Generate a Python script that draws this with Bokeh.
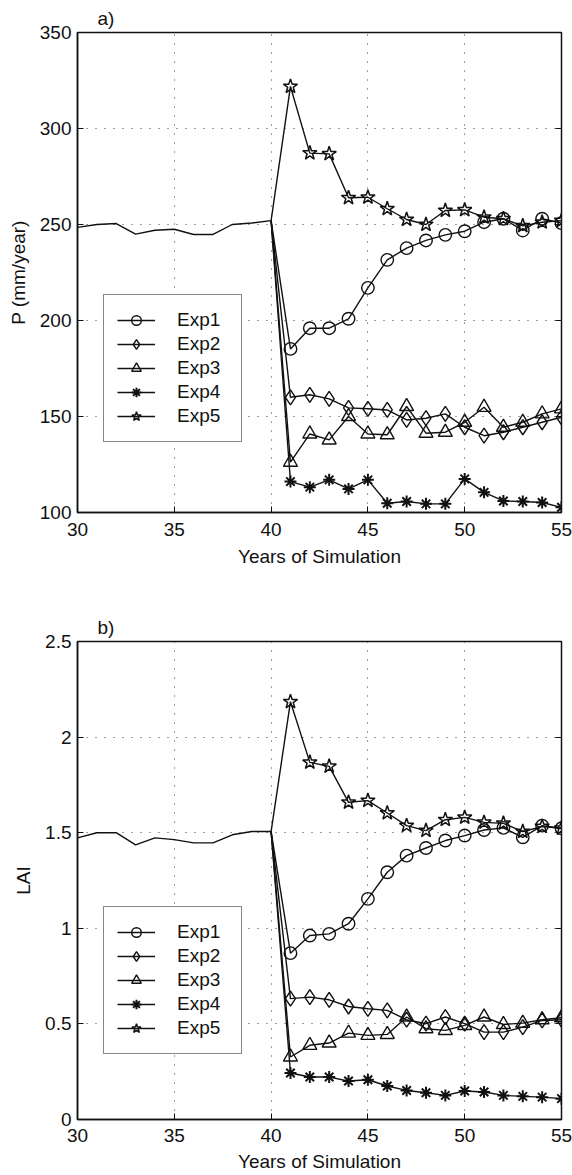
from bokeh.plotting import figure
from bokeh.models import Legend, LegendItem, LinearAxis, FixedTicker, Range1d
from bokeh.layouts import column
from bokeh.embed import file_html
from bokeh.resources import INLINE

# ---------------- data ----------------
years_ctrl = [30, 31, 32, 33, 34, 35, 36, 37, 38, 39, 40]
years_exp = [41, 42, 43, 44, 45, 46, 47, 48, 49, 50, 51, 52, 53, 54, 55]
exp_names = ["Exp1", "Exp2", "Exp3", "Exp4", "Exp5"]
x_ticks = [30, 35, 40, 45, 50, 55]

# a) precipitation (mm/year)
p_ctrl = [248.5, 250.0, 250.5, 245.0, 247.0, 247.5, 244.8, 244.8, 250.0, 250.8, 252.0]
p_exp1 = [185.2, 196.0, 196.0, 200.9, 217.0, 231.6, 237.7, 241.7, 244.6, 246.5, 251.2, 253.0, 246.9, 253.0, 250.7]
p_exp2 = [160.0, 161.3, 159.2, 154.5, 154.0, 153.4, 148.2, 149.1, 151.4, 144.4, 140.0, 141.8, 144.4, 147.0, 149.6]
p_exp3 = [126.2, 140.9, 137.8, 150.0, 140.9, 140.5, 155.2, 141.3, 141.8, 147.0, 154.8, 144.4, 147.0, 151.4, 154.0]
p_exp4 = [116.1, 113.2, 117.0, 112.3, 117.0, 104.8, 105.7, 104.5, 104.5, 117.5, 110.5, 106.0, 105.7, 105.2, 102.7]
p_exp5 = [321.9, 287.2, 286.8, 263.9, 264.2, 258.2, 252.6, 250.0, 257.3, 257.6, 253.8, 253.0, 249.3, 251.2, 252.0]
p_ticks = [100, 150, 200, 250, 300, 350]
p_tick_labels = ["100", "150", "200", "250", "300", "350"]

# b) leaf area index
lai_ctrl = [1.473, 1.500, 1.500, 1.436, 1.473, 1.464, 1.447, 1.447, 1.489, 1.506, 1.506]
lai_exp1 = [0.870, 0.962, 0.971, 1.024, 1.154, 1.293, 1.380, 1.420, 1.459, 1.485, 1.514, 1.525, 1.476, 1.537, 1.523]
lai_exp2 = [0.632, 0.640, 0.626, 0.591, 0.579, 0.571, 0.522, 0.501, 0.536, 0.501, 0.457, 0.457, 0.483, 0.518, 0.522]
lai_exp3 = [0.327, 0.388, 0.400, 0.452, 0.440, 0.445, 0.536, 0.475, 0.466, 0.492, 0.536, 0.497, 0.504, 0.522, 0.532]
lai_exp4 = [0.243, 0.222, 0.222, 0.201, 0.208, 0.175, 0.152, 0.140, 0.126, 0.149, 0.144, 0.126, 0.121, 0.117, 0.109]
lai_exp5 = [2.185, 1.868, 1.847, 1.659, 1.668, 1.603, 1.537, 1.511, 1.568, 1.580, 1.554, 1.549, 1.506, 1.532, 1.523]
lai_ticks = [0, 0.5, 1, 1.5, 2, 2.5]
lai_tick_labels = ["0", "0.5", "1", "1.5", "2", "2.5"]

# ---------------- styling ----------------
FONT = "Liberation Sans"
FS = "19px"
INK = "#111111"
W = 572
LEFT = 77
FRAME_W = 484

marker_styles = [
    dict(marker="circle", size=12.5, lw=1.4),
    dict(marker="diamond", size=15, lw=1.4),
    dict(marker="triangle", size=14, lw=1.4),
    dict(marker="asterisk", size=12, lw=2.0),
    dict(marker="star", size=15, lw=1.5),
]


def make_panel(tag, ylabel, ctrl, exps, yr, yticks, ylabels, height, top, bottom, leg_y,
               tick_standoff, label_standoff, line_h):
    p = figure(width=W, height=height, x_range=Range1d(30, 55), y_range=Range1d(*yr),
               output_backend="svg", toolbar_location=None,
               min_border_left=LEFT, min_border_right=W - LEFT - FRAME_W,
               min_border_top=top, min_border_bottom=bottom,
               background_fill_color="white", border_fill_color="white")
    p.outline_line_color = INK
    p.outline_line_width = 1.5
    p.title.text = tag
    p.title.text_font = FONT
    p.title.text_font_size = FS
    p.title.text_font_style = "normal"
    p.title.text_color = INK
    p.title.offset = 20
    p.title.standoff = 7

    p.xaxis.ticker = FixedTicker(ticks=x_ticks)
    p.yaxis.ticker = FixedTicker(ticks=yticks)
    p.yaxis.major_label_overrides = {float(t): l for t, l in zip(yticks, ylabels)}
    p.xaxis.axis_label = "Years of Simulation"
    p.yaxis.axis_label = ylabel
    for ax in (p.xaxis[0], p.yaxis[0]):
        ax.major_tick_in = 6
        ax.major_tick_out = 0
        ax.minor_tick_line_color = None
        ax.axis_line_color = INK
        ax.axis_line_width = 1.5
        ax.major_tick_line_color = INK
        ax.major_label_text_font = FONT
        ax.major_label_text_font_size = FS
        ax.major_label_text_color = INK
        ax.axis_label_text_font = FONT
        ax.axis_label_text_font_size = FS
        ax.axis_label_text_font_style = "normal"
        ax.axis_label_text_color = INK
    p.xaxis.major_label_standoff = tick_standoff
    p.xaxis.axis_label_standoff = label_standoff
    p.xaxis.major_label_text_line_height = line_h
    p.xaxis.axis_label_text_line_height = line_h
    p.yaxis.major_label_standoff = 6
    p.yaxis.axis_label_standoff = 8

    # inward ticks on the right side (box on), no labels
    ra = LinearAxis(ticker=FixedTicker(ticks=yticks), major_tick_in=6, major_tick_out=0,
                    minor_tick_line_color=None,
                    major_label_overrides={float(t): "" for t in yticks},
                    major_label_standoff=0, axis_line_color=INK, major_tick_line_color=INK)
    p.add_layout(ra, "right")

    for g in (p.xgrid[0], p.ygrid[0]):
        g.grid_line_color = INK
        g.grid_line_alpha = 0.8
        g.grid_line_dash = "1 8"
        g.grid_line_width = 1
    p.xgrid.ticker = FixedTicker(ticks=x_ticks)
    p.ygrid.ticker = FixedTicker(ticks=yticks)

    p.line(years_ctrl, ctrl, line_color=INK, line_width=1.4)

    items = []
    for name, vals, st in zip(exp_names, exps, marker_styles):
        lr = p.line([years_ctrl[-1]] + years_exp, [ctrl[-1]] + vals, line_color=INK, line_width=1.4)
        sr = p.scatter(years_exp, vals, marker=st["marker"], size=st["size"],
                       line_color=INK, line_width=st["lw"], fill_color=None)
        items.append(LegendItem(label=name, renderers=[lr, sr]))

    leg = Legend(items=items, location=(26, leg_y))
    leg.label_text_font = FONT
    leg.label_text_font_size = FS
    leg.label_text_color = INK
    leg.border_line_color = INK
    leg.border_line_width = 1.5
    leg.background_fill_color = "white"
    leg.background_fill_alpha = 1.0
    leg.padding = 13
    leg.spacing = 0
    leg.glyph_width = 38
    leg.glyph_height = 24
    leg.label_height = 24
    leg.label_width = 51
    leg.label_standoff = 22
    leg.margin = 0
    p.add_layout(leg, "center")
    return p


p1 = make_panel("a)", "P (mm/year)", p_ctrl, [p_exp1, p_exp2, p_exp3, p_exp4, p_exp5],
                (100, 350), p_ticks, p_tick_labels, 600, 32, 88, 70, 10, 7, 1.2)
p2 = make_panel("b)", "LAI", lai_ctrl, [lai_exp1, lai_exp2, lai_exp3, lai_exp4, lai_exp5],
                (0, 2.5), lai_ticks, lai_tick_labels, 575, 41, 56, 65, 9, 6, 1.0)

layout = column(p1, p2, spacing=0)
open("out.html", "w").write(file_html(layout, INLINE))
